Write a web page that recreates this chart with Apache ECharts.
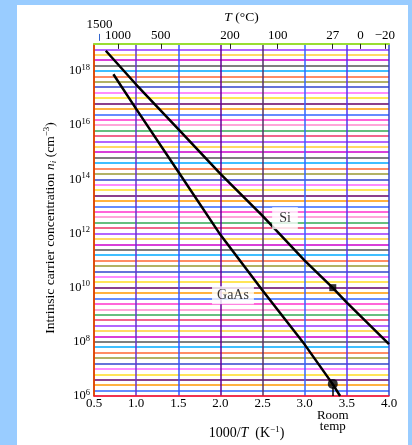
<!DOCTYPE html>
<html><head><meta charset="utf-8">
<script src="https://cdn.jsdelivr.net/npm/echarts@6/dist/echarts.min.js"></script>
<style>
html,body{margin:0;padding:0;background:#99ccff;width:412px;height:445px;overflow:hidden;}
#c{position:absolute;left:17px;top:5px;width:391px;height:440px;background:#ffffff;}
</style></head>
<body><div id="c"></div>
<script>
// ---- data ----
const invT_Si   = [0.64, 1.0, 1.5, 2.0, 2.5, 3.0, 3.33, 3.5, 4.0];
const ni_Si     = [5.6e18, 3.16e17, 7.1e15, 1.6e14, 4.5e12, 1.0e11, 1.0e10, 2.8e9, 8.3e7];
const invT_GaAs = [0.73, 1.0, 1.5, 2.0, 2.5, 3.0, 3.33, 3.42];
const ni_GaAs   = [7.6e17, 4.0e16, 1.9e14, 8.9e11, 7.9e9, 7.9e7, 2.8e6, 1.0e6];
const markerSi   = [3.333, 1.0e10];
const markerGaAs = [3.333, 2.8e6];
const labelSi    = [2.766, 3.7e12];
const labelGaAs  = [2.149, 5.2e9];
const tempTicksC = [1000, 500, 200, 100, 27, 0, -20];
const tempTickHigh = [1500];
const yLabelExps = [6, 8, 10, 12, 14, 16, 18];
const roomTempK = 300;

const serif = '"Liberation Serif","DejaVu Serif",serif';
const hColors = ['#ff33cc','#3366ff','#ff9900','#660066','#ffdd22','#ff66ff','#3344cc','#999933','#ff6633','#00aaff','#555555','#cc00cc','#ffcc33','#9933ff','#ee3366','#33aa55','#ff88cc'];
const vColors = ['#dd4400','#6633cc','#3355ff','#660099','#553366','#3366ff','#5533ee','#3344cc'];

const toX = t => 1000 / (t + 273.15);
const fmtT = v => { const t = Math.round(1000 / v - 273.15); return t < 0 ? '\u2212' + (-t) : '' + t; };
const zip = (a, b) => a.map((x, i) => [x, b[i]]);

const chart = echarts.init(document.getElementById('c'), null, {renderer: 'canvas'});
chart.setOption({
  animation: false,
  grid: {left: 77, right: 19, top: 37, bottom: 39},
  xAxis: [
    { type: 'value', position: 'bottom', min: 0.5, max: 4.0, interval: 0.5,
      axisLine: {lineStyle: {color: '#ee2222', width: 1.5}},
      axisTick: {show: false},
      axisLabel: {fontFamily: serif, fontSize: 13, color: '#000', margin: 1,
        formatter: v => v.toFixed(1)},
      splitLine: {show: true, lineStyle: {color: vColors, width: 1.5}},
      name: '{a|1000/}{i|T}{a|  (K}{s|\u22121}{a|)}', nameLocation: 'middle', nameGap: 29,
      nameTextStyle: {padding: [0, 0, 0, 10], rich: {
        a: {fontFamily: serif, fontSize: 14, color: '#000'},
        i: {fontFamily: serif, fontSize: 14, fontStyle: 'italic', color: '#000'},
        s: {fontFamily: serif, fontSize: 9, color: '#000', padding: [0,0,7,0]}
      }}
    },
    { type: 'value', position: 'top', min: 0.5, max: 4.0,
      axisLine: {lineStyle: {color: '#99dd33', width: 2}},
      axisTick: {show: true, inside: true, length: 5, lineStyle: {color: '#222'},
        customValues: tempTicksC.map(toX)},
      axisLabel: {fontFamily: serif, fontSize: 13, color: '#000', margin: 2,
        customValues: tempTicksC.map(toX), formatter: fmtT},
      splitLine: {show: false},
      name: '{i|T}{a| (\u00B0C)}', nameLocation: 'middle', nameGap: 18,
      nameTextStyle: {rich: {
        a: {fontFamily: serif, fontSize: 13.5, color: '#000'},
        i: {fontFamily: serif, fontSize: 13.5, fontStyle: 'italic', color: '#000'}
      }}
    },
    { type: 'value', position: 'top', offset: 10, min: 0.5, max: 4.0,
      axisLine: {show: false},
      axisTick: {show: true, inside: true, length: 7, lineStyle: {color: '#3366cc'},
        customValues: tempTickHigh.map(toX)},
      axisLabel: {fontFamily: serif, fontSize: 13, color: '#000', margin: 3,
        customValues: tempTickHigh.map(toX), formatter: fmtT},
      splitLine: {show: false}
    },
    { type: 'value', position: 'bottom', min: 0.5, max: 4.0,
      axisLine: {show: false},
      axisTick: {show: true, inside: true, length: 9, lineStyle: {color: '#000', width: 1.5},
        customValues: [1000 / roomTempK]},
      axisLabel: {fontFamily: serif, fontSize: 13, color: '#000', margin: 14, lineHeight: 11,
        customValues: [1000 / roomTempK], formatter: () => 'Room\ntemp'},
      splitLine: {show: false}
    }
  ],
  yAxis: [
    { type: 'log', logBase: 10, min: 1e6, max: 1e19,
      axisLine: {show: true, lineStyle: {color: '#dd4400', width: 1.5}},
      axisTick: {show: false},
      splitLine: {show: false},
      axisLabel: {margin: 4, customValues: yLabelExps.map(e => Math.pow(10, e)),
        formatter: v => { const e = Math.round(Math.log10(v)); return (e % 2 === 0) ? '{b|10}{s|' + e + '}' : ''; },
        rich: {
          b: {fontFamily: serif, fontSize: 12.5, color: '#000'},
          s: {fontFamily: serif, fontSize: 8.5, color: '#000', padding: [0,0,7,0]}
        }},
      name: '{a|Intrinsic carrier concentration }{i|n}{b|i}{a| (cm}{s|\u22123}{a|)}',
      nameLocation: 'middle', nameGap: 34,
      nameTextStyle: {padding: [0, 16, 0, 0], rich: {
        a: {fontFamily: serif, fontSize: 13.5, color: '#000'},
        i: {fontFamily: serif, fontSize: 13.5, fontStyle: 'italic', color: '#000'},
        b: {fontFamily: serif, fontSize: 9, fontStyle: 'italic', color: '#000', padding: [6,0,0,0]},
        s: {fontFamily: serif, fontSize: 9, color: '#000', padding: [0,0,7,0]}
      }}
    },
    { type: 'value', min: 0, max: 65, interval: 1, position: 'left',
      axisLine: {show: false}, axisTick: {show: false}, axisLabel: {show: false},
      splitLine: {show: true, lineStyle: {color: hColors, width: 1.5}}
    }
  ],
  series: [
    { name: 'Si', type: 'line', xAxisIndex: 0, yAxisIndex: 0, data: zip(invT_Si, ni_Si),
      symbol: 'none', lineStyle: {color: '#000', width: 2.5}, z: 5 },
    { name: 'GaAs', type: 'line', xAxisIndex: 0, yAxisIndex: 0, data: zip(invT_GaAs, ni_GaAs),
      symbol: 'none', lineStyle: {color: '#000', width: 2.5}, z: 5 },
    { type: 'scatter', xAxisIndex: 0, yAxisIndex: 0, data: [markerSi], symbol: 'rect', symbolSize: 7,
      itemStyle: {color: '#000'}, z: 6 },
    { type: 'scatter', xAxisIndex: 0, yAxisIndex: 0, data: [markerGaAs], symbol: 'circle', symbolSize: 10,
      itemStyle: {color: '#000'}, z: 6 },
    { type: 'scatter', xAxisIndex: 0, yAxisIndex: 0, symbolSize: 1, itemStyle: {color: 'rgba(0,0,0,0)'},
      data: [
        {value: labelSi, name: 'Si', label: {padding: [4, 7]}},
        {value: labelGaAs, name: 'GaAs', label: {padding: [2, 5]}}
      ],
      label: {show: true, position: 'inside', formatter: p => p.name, fontFamily: serif, fontSize: 14,
        color: '#000', backgroundColor: '#fff'}, z: 7 }
  ]
});
</script></body></html>
